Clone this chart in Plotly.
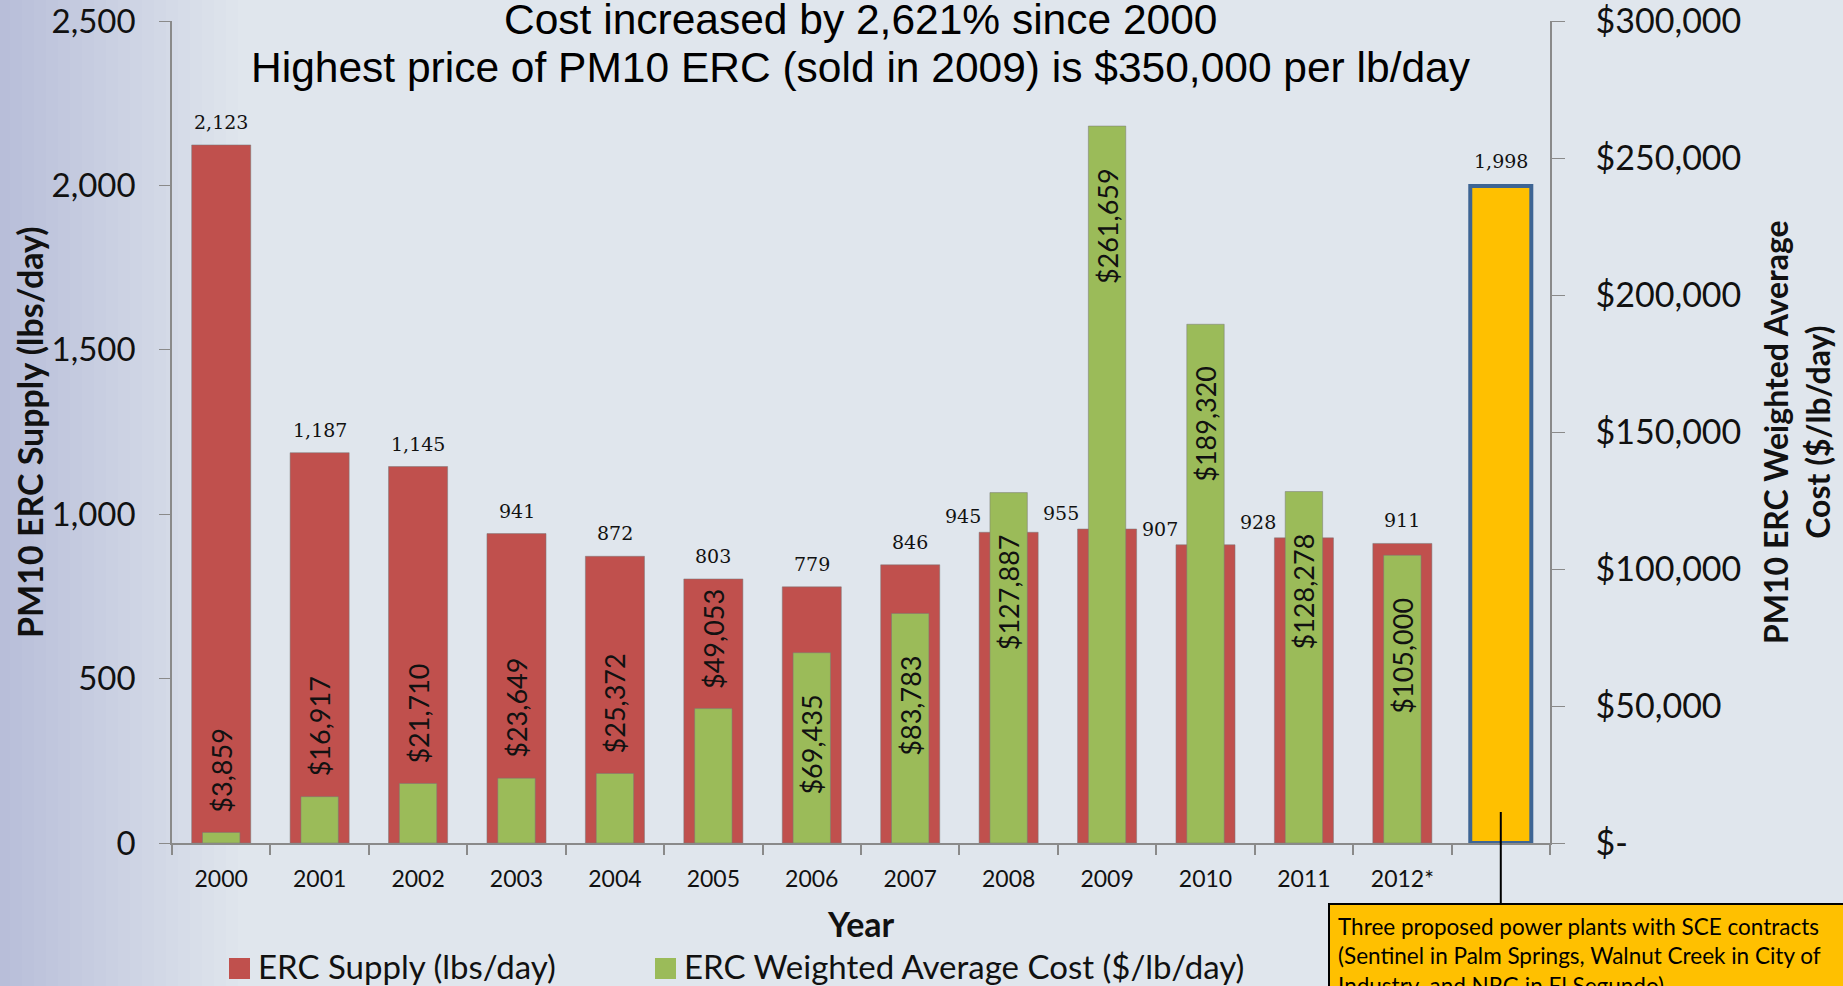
import plotly.graph_objects as go

# Data
years = ["2000", "2001", "2002", "2003", "2004", "2005", "2006",
         "2007", "2008", "2009", "2010", "2011", "2012*"]
supply = [2123, 1187, 1145, 941, 872, 803, 779, 846, 945, 955, 907, 928, 911]
cost = [3859, 16917, 21710, 23649, 25372, 49053, 69435, 83783,
        127887, 261659, 189320, 128278, 105000]
proposed_supply = [1998]
proposed_note = ("Three proposed power plants with SCE contracts<br>"
                 "(Sentinel in Palm Springs, Walnut Creek in City of<br>"
                 "Industry, and NRG in El Segundo)")

supply_ticks = [0, 500, 1000, 1500, 2000, 2500]
cost_ticks = [0, 50000, 100000, 150000, 200000, 250000, 300000]

title_lines = ["Cost increased by 2,621% since 2000",
               "Highest price of PM10 ERC (sold in 2009) is $350,000 per lb/day"]

# Colours
RED = "#C0504D"
GREEN = "#9BBB59"
YELLOW = "#FFC000"
AXIS = "#8a8a8a"
TEXT = "#111111"

W, H = 1843, 986
ML, MR, MT, MB = 172, 293, 21, 143
PW, PH = W - ML - MR, H - MT - MB


def px_x(px):
    return (px - ML) / PW


def px_y(py):
    return (H - MB - py) / PH


pos = list(range(len(years)))
proposed_pos = [len(years)]
y_max, y2_max = supply_ticks[-1], cost_ticks[-1]

fig = go.Figure()

fig.add_trace(go.Bar(
    x=pos, y=supply, width=0.6, name="ERC Supply (lbs/day)",
    marker=dict(color=RED, line=dict(color="rgba(120,120,120,0.5)", width=1)),
    showlegend=False, hoverinfo="skip",
))
fig.add_trace(go.Bar(
    x=pos, y=cost, width=0.38, yaxis="y2",
    name="ERC Weighted Average Cost ($/lb/day)",
    marker=dict(color=GREEN, line=dict(color="rgba(120,120,120,0.5)", width=1)),
    showlegend=False, hoverinfo="skip",
))
fig.add_trace(go.Bar(
    x=proposed_pos, y=proposed_supply, width=0.62,
    marker=dict(color=YELLOW, line=dict(color="#3E6594", width=4)),
    showlegend=False, hoverinfo="skip",
))

annotations = []

# title, two lines
for text, yc in zip(title_lines, [20, 68]):
    annotations.append(dict(
        text=text, xref="paper", yref="paper", x=0.5, y=px_y(yc),
        xanchor="center", yanchor="middle", showarrow=False,
        font=dict(family="Liberation Sans", size=42.5, color="black"),
    ))

# supply labels (moved left where the green bar covers the red top)
for i, (s, c) in enumerate(zip(supply, cost)):
    covered = c / y2_max * y_max > s
    annotations.append(dict(
        text=f"{s:,}", x=i, y=s, xref="x", yref="y", showarrow=False,
        yanchor="bottom", xshift=-46 if covered else 0, yshift=3 if covered else 10,
        font=dict(family="DejaVu Serif", size=19, color=TEXT),
    ))
for i, s in zip(proposed_pos, proposed_supply):
    annotations.append(dict(
        text=f"{s:,}", x=i, y=s, xref="x", yref="y", showarrow=False,
        yanchor="bottom", yshift=12,
        font=dict(family="DejaVu Serif", size=19, color=TEXT),
    ))

# cost labels, rotated
for i, c in enumerate(cost):
    inside = c > 60000
    annotations.append(dict(
        text=f"${c:,}", x=i, y=c, xref="x", yref="y2", showarrow=False,
        textangle=-90, yanchor="top" if inside else "bottom",
        yshift=-40 if inside else 18,
        font=dict(family="Lato", size=27, color=TEXT),
    ))

# axis titles
annotations.append(dict(
    text="<b>PM10 ERC Supply (lbs/day)</b>", xref="paper", yref="paper",
    x=px_x(29), y=0.5, xanchor="center", yanchor="middle", textangle=-90,
    showarrow=False, font=dict(family="Lato", size=34, color=TEXT),
))
annotations.append(dict(
    text="<b>PM10 ERC Weighted Average<br>Cost ($/lb/day)</b>",
    xref="paper", yref="paper", x=px_x(1796), y=0.5, xanchor="center",
    yanchor="middle", textangle=-90, showarrow=False,
    font=dict(family="Lato", size=32, color=TEXT),
))
annotations.append(dict(
    text="<b>Year</b>", xref="paper", yref="paper", x=0.5, y=px_y(923),
    xanchor="center", yanchor="middle", showarrow=False,
    font=dict(family="Lato", size=34, color=TEXT),
))

# legend drawn by hand
shapes = []
legend_items = [(229, RED, "ERC Supply (lbs/day)"),
                (655, GREEN, "ERC Weighted Average Cost ($/lb/day)")]
for x0, col, label in legend_items:
    shapes.append(dict(type="rect", xref="paper", yref="paper",
                       x0=px_x(x0), x1=px_x(x0 + 21), y0=px_y(979), y1=px_y(958),
                       fillcolor=col, line=dict(width=0)))
    annotations.append(dict(
        text=label, xref="paper", yref="paper", x=px_x(x0 + 27), y=px_y(966),
        xanchor="left", yanchor="middle", showarrow=False,
        font=dict(family="Lato", size=33, color=TEXT),
    ))

# callout box for the proposed bar
annotations.append(dict(
    text=proposed_note, xref="paper", yref="paper", x=px_x(1328), y=px_y(903),
    xanchor="left", yanchor="top", align="left", showarrow=False,
    bgcolor=YELLOW, bordercolor="black", borderwidth=2, borderpad=8, width=580,
    font=dict(family="Lato", size=22.5, color="black"),
))
shapes.append(dict(type="line", xref="x", yref="paper",
                   x0=proposed_pos[0], x1=proposed_pos[0],
                   y0=px_y(812), y1=px_y(903),
                   line=dict(color="black", width=2)))

# soft darker band along the left edge of the slide background
for k in range(20):
    shapes.append(dict(type="rect", xref="paper", yref="paper", layer="below",
                       x0=px_x(0), x1=px_x(10 + k * 12), y0=px_y(H), y1=px_y(0),
                       fillcolor="rgba(90,125,165,0.010)", line=dict(width=0)))

fig.update_layout(
    width=W, height=H,
    margin=dict(l=ML, r=MR, t=MT, b=MB, autoexpand=False),
    paper_bgcolor="#e0e6ed",
    plot_bgcolor="rgba(0,0,0,0)",
    barmode="overlay",
    showlegend=False,
    xaxis=dict(
        range=[-0.5, len(years) + 0.5], tickmode="array", tickvals=pos,
        ticktext=years, ticks="", showgrid=False, zeroline=False,
        showline=True, linecolor=AXIS, linewidth=2,
        tickfont=dict(family="Lato", size=23, color=TEXT),
        ticklabelstandoff=14,
        minor=dict(tickmode="array",
                   tickvals=[p - 0.5 for p in pos + proposed_pos + [len(years) + 1]],
                   ticks="outside", ticklen=10, tickcolor=AXIS, tickwidth=1.5),
    ),
    yaxis=dict(
        range=[0, y_max], tickmode="array", tickvals=supply_ticks,
        tickformat=",", ticks="outside", ticklen=11, tickcolor=AXIS,
        showgrid=False, zeroline=False, showline=True, linecolor=AXIS,
        linewidth=1.5, tickfont=dict(family="Lato", size=33, color=TEXT),
        ticklabelstandoff=17, ticklabeloverflow="allow",
    ),
    yaxis2=dict(
        overlaying="y", side="right", range=[0, y2_max], tickmode="array",
        tickvals=cost_ticks,
        ticktext=[f"${v:,}" if v else "$-" for v in cost_ticks],
        ticks="outside", ticklen=13, tickcolor=AXIS, showgrid=False,
        zeroline=False, showline=True, linecolor=AXIS, linewidth=1.5,
        tickfont=dict(family="Lato", size=34, color=TEXT),
        ticklabelstandoff=24, ticklabeloverflow="allow",
    ),
    annotations=annotations,
    shapes=shapes,
)

# the page's default body margin would push the figure 8px down and right
fig.write_html("out.html", config={"displayModeBar": False},
               post_script="document.body.style.margin='0';")
